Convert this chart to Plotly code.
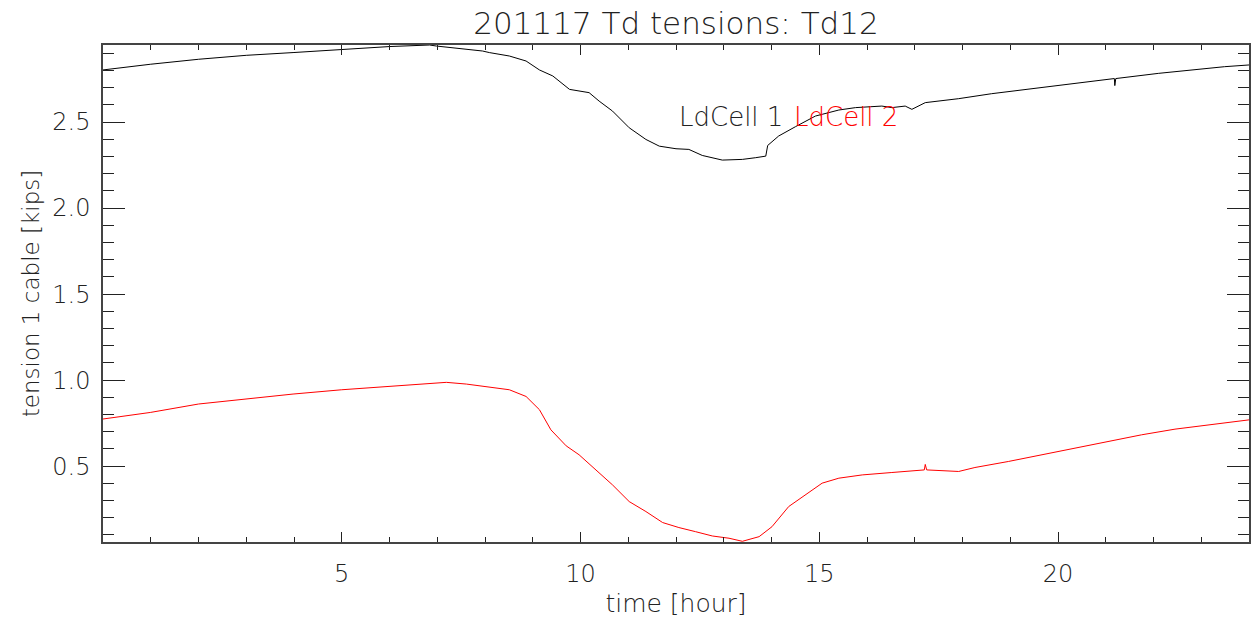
import plotly.graph_objects as go

# Load-cell tension readings over the day [hour, kips]
t_cell1 = [0.0, 0.99, 2.0, 3.0, 3.98, 5.0, 6.0, 6.84, 6.98, 7.95, 8.09, 8.51, 8.86, 9.14,
           9.42, 9.77, 10.18, 10.39, 10.67, 11.02, 11.37, 11.65, 12.0, 12.27, 12.55, 12.97,
           13.39, 13.67, 13.88, 13.92, 14.15, 14.50, 14.92, 15.41, 15.76, 16.31, 16.52,
           16.80, 16.94, 17.22, 17.92, 18.61, 19.31, 20.01, 20.70, 21.18, 21.19, 21.21,
           22.10, 22.79, 23.49, 24.0]
v_cell1 = [2.803, 2.836, 2.865, 2.888, 2.904, 2.923, 2.939, 2.948, 2.942, 2.913, 2.904,
           2.884, 2.855, 2.803, 2.768, 2.690, 2.671, 2.622, 2.564, 2.467, 2.399, 2.360,
           2.345, 2.341, 2.306, 2.279, 2.283, 2.293, 2.302, 2.364, 2.419, 2.473, 2.535,
           2.570, 2.584, 2.593, 2.584, 2.593, 2.574, 2.613, 2.636, 2.665, 2.690, 2.714,
           2.739, 2.753, 2.712, 2.753, 2.783, 2.803, 2.822, 2.832]

t_cell2 = [0.0, 0.99, 2.0, 3.0, 3.98, 5.0, 6.0, 7.19, 7.61, 8.30, 8.51, 8.86, 9.14, 9.38,
           9.70, 9.97, 10.25, 10.67, 11.02, 11.37, 11.72, 12.06, 12.41, 12.76, 13.11,
           13.39, 13.74, 14.01, 14.36, 14.71, 15.06, 15.41, 15.90, 16.52, 17.20, 17.22,
           17.25, 17.92, 18.26, 18.96, 19.66, 20.36, 21.05, 21.75, 22.45, 23.14, 24.0]
v_cell2 = [0.774, 0.812, 0.861, 0.890, 0.919, 0.944, 0.963, 0.987, 0.977, 0.950, 0.944,
           0.905, 0.828, 0.711, 0.618, 0.566, 0.498, 0.391, 0.294, 0.236, 0.172, 0.143,
           0.119, 0.094, 0.081, 0.063, 0.090, 0.148, 0.265, 0.333, 0.401, 0.430, 0.449,
           0.463, 0.478, 0.510, 0.478, 0.469, 0.492, 0.527, 0.566, 0.605, 0.643, 0.682,
           0.715, 0.740, 0.769]

x_ticks = [5, 10, 15, 20]
y_ticks = [0.5, 1.0, 1.5, 2.0, 2.5]

FONT = "DejaVu Sans"
INK = "#222222"
AXIS = "#444444"

fig = go.Figure()
fig.add_trace(go.Scatter(x=t_cell1, y=v_cell1, mode="lines",
                         line=dict(color="black", width=1), name="LdCell 1"))
fig.add_trace(go.Scatter(x=t_cell2, y=v_cell2, mode="lines",
                         line=dict(color="#ff0000", width=1), name="LdCell 2"))

fig.update_layout(
    width=1260, height=623,
    margin=dict(l=103, r=9, t=45, b=81),
    paper_bgcolor="white", plot_bgcolor="white",
    showlegend=False,
    font=dict(family=FONT, size=24, color=INK, weight=200),
    title=dict(text="201117 Td tensions: Td12", xref="paper", x=0.5, xanchor="center",
               y=0.963, yanchor="middle",
               font=dict(family=FONT, size=31, color=INK, weight=200)),
)

fig.update_xaxes(
    range=[0, 24], tickmode="array", tickvals=x_ticks,
    ticktext=[str(v) for v in x_ticks],
    ticks="inside", ticklen=10, tickwidth=1, tickcolor=INK,
    minor=dict(dtick=1, tick0=0, ticks="inside", ticklen=5, tickwidth=1, tickcolor=INK),
    showline=True, linecolor=AXIS, linewidth=1.5, mirror="ticks",
    showgrid=False, zeroline=False, ticklabelstandoff=9,
    tickfont=dict(size=24, color=INK),
    title=dict(text="time [hour]", standoff=8, font=dict(size=25, color=INK)),
)
fig.update_yaxes(
    range=[0.059, 2.948], tickmode="array", tickvals=y_ticks,
    ticktext=[f"{v:.1f}" for v in y_ticks],
    ticks="inside", ticklen=22, tickwidth=1, tickcolor=INK,
    minor=dict(dtick=0.1, tick0=0, ticks="inside", ticklen=11, tickwidth=1, tickcolor=INK),
    showline=True, linecolor=AXIS, linewidth=1.5, mirror="ticks",
    showgrid=False, zeroline=False, ticklabelstandoff=6,
    tickfont=dict(size=24, color=INK),
    title=dict(text="tension 1 cable [kips]", standoff=6, font=dict(size=23, color=INK)),
)

# Series labels
fig.add_annotation(text="LdCell 1", xref="paper", yref="paper", x=0.501, y=0.856,
                   xanchor="left", yanchor="middle", showarrow=False,
                   font=dict(family=FONT, size=26, color=INK, weight=200))
fig.add_annotation(text="LdCell 2", xref="paper", yref="paper", x=0.601, y=0.856,
                   xanchor="left", yanchor="middle", showarrow=False,
                   font=dict(family=FONT, size=26, color="#ff0000", weight=200))

fig.write_html("out.html")
